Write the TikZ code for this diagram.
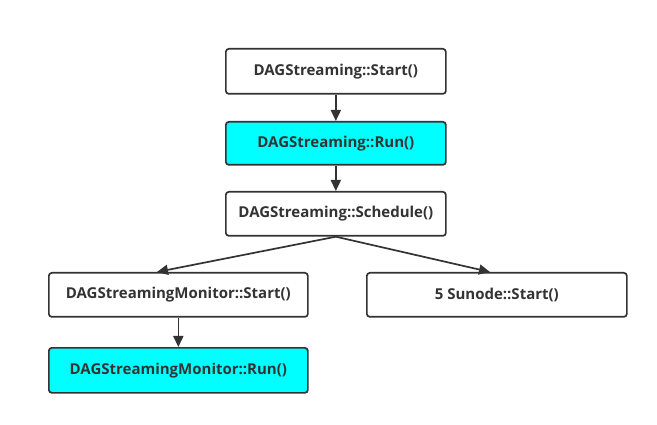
\documentclass[tikz,border=0pt]{standalone}
\usepackage{fontspec}
\setmainfont{Open Sans}
\usetikzlibrary{arrows.meta}
\definecolor{ln}{HTML}{333333}
\definecolor{cy}{HTML}{00FFFF}
\tikzset{
  box/.style={draw=ln, line width=1.7pt, rounded corners=3pt, fill=white, text=ln,
    font=\fontsize{15}{17}\selectfont\bfseries, inner sep=0pt, anchor=north west},
  hl/.style={fill=cy},
  arr/.style={draw=ln, line width=1.7pt, -{Triangle[length=11pt,width=10pt]}}
}
\begin{document}
\begin{tikzpicture}[x=1pt,y=-1pt]
\useasboundingbox (0,0) rectangle (657,425);
\node[box, minimum width=220pt, minimum height=45pt] (a) at (225,48) {DAGStreaming::Start()};
\node[box, hl, minimum width=220pt, minimum height=43pt] (b) at (225,121) {DAGStreaming::Run()};
\node[box, minimum width=220pt, minimum height=44pt] (c) at (225,191) {DAGStreaming::Schedule()};
\node[box, minimum width=259pt, minimum height=44pt] (d) at (48,272) {DAGStreamingMonitor::Start()};
\node[box, minimum width=260pt, minimum height=44pt] (e) at (366,272) {5 Sunode::Start()};
\node[box, hl, minimum width=259pt, minimum height=45pt] (f) at (48,347) {DAGStreamingMonitor::Run()};
\coordinate (dt) at (157,272);
\coordinate (et) at (490,272);
\draw[arr] (a.south) -- (b.north);
\draw[arr] (b.south) -- (c.north);
\draw[arr] (c.south) -- (dt);
\draw[arr] (c.south) -- (et);
\draw[arr] (d.south) -- (f.north);
\end{tikzpicture}
\end{document}
